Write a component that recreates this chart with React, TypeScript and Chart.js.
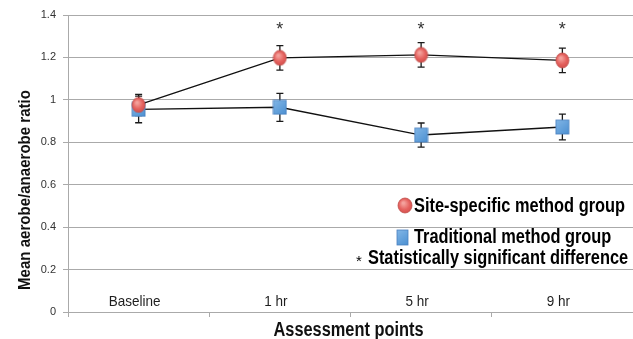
import React, { useEffect, useRef } from "react";
import { Chart, registerables } from "chart.js";

Chart.register(...registerables);

const categories = ["Baseline", "1 hr", "5 hr", "9 hr"];
const siteSpecific = [0.976, 1.198, 1.212, 1.186];
const siteSpecificErr = [0.05, 0.058, 0.058, 0.058];
const traditional = [0.955, 0.965, 0.834, 0.872];
const traditionalErr = [0.063, 0.066, 0.057, 0.061];
const significant = [false, true, true, true];
const yMin = 0;
const yMax = 1.4;
const yStep = 0.2;
const yTitle = "Mean aerobe/anaerobe ratio";
const xTitle = "Assessment points";
const legendLabels = [
  "Site-specific method group",
  "Traditional method group",
  "Statistically significant difference",
];

const SANS = "'Liberation Sans', Arial, sans-serif";

function makeCircle(w: number, h: number): HTMLCanvasElement {
  const c = document.createElement("canvas");
  c.width = w + 2;
  c.height = h + 2;
  const ctx = c.getContext("2d")!;
  const g = ctx.createRadialGradient(w * 0.45, h * 0.4, 1, w / 2 + 1, h / 2 + 1, w / 1.6);
  g.addColorStop(0, "#f4a19c");
  g.addColorStop(0.55, "#e5625f");
  g.addColorStop(1, "#d04a47");
  ctx.fillStyle = g;
  ctx.beginPath();
  ctx.ellipse(w / 2 + 1, h / 2 + 1, w / 2, h / 2, 0, 0, Math.PI * 2);
  ctx.fill();
  ctx.strokeStyle = "#c0504d";
  ctx.lineWidth = 0.8;
  ctx.stroke();
  return c;
}

function makeSquare(w: number, h: number): HTMLCanvasElement {
  const c = document.createElement("canvas");
  c.width = w + 2;
  c.height = h + 2;
  const ctx = c.getContext("2d")!;
  const g = ctx.createLinearGradient(0, 0, w, h);
  g.addColorStop(0, "#86b9e8");
  g.addColorStop(1, "#5093d3");
  ctx.fillStyle = g;
  ctx.fillRect(1, 1, w, h);
  ctx.strokeStyle = "#4a7fbf";
  ctx.lineWidth = 0.8;
  ctx.strokeRect(1, 1, w, h);
  return c;
}

// draws text horizontally condensed (narrow typeface look)
function narrowText(
  ctx: CanvasRenderingContext2D,
  text: string,
  x: number,
  y: number,
  font: string,
  scaleX: number,
  align: "left" | "center"
) {
  ctx.save();
  ctx.font = font;
  ctx.textAlign = align;
  ctx.textBaseline = "middle";
  ctx.translate(x, y);
  ctx.scale(scaleX, 1);
  ctx.fillText(text, 0, 0);
  ctx.restore();
}

function fitScale(ctx: CanvasRenderingContext2D, text: string, font: string, width: number) {
  ctx.save();
  ctx.font = font;
  const w = ctx.measureText(text).width;
  ctx.restore();
  return width / w;
}

export default function App() {
  const ref = useRef<HTMLCanvasElement | null>(null);

  useEffect(() => {
    document.body.style.margin = "0";
    const canvas = ref.current;
    if (!canvas) return;
    const circle = makeCircle(13, 15);
    const square = makeSquare(13, 14);
    const legendCircle = makeCircle(14, 15);
    const legendSquare = makeSquare(11, 15);

    const errorBars = {
      id: "errorBars",
      beforeDatasetsDraw(chart: any) {
        const ctx = chart.ctx;
        const xs = chart.scales.x;
        const ys = chart.scales.y;
        const sets = [
          { v: traditional, e: traditionalErr },
          { v: siteSpecific, e: siteSpecificErr },
        ];
        ctx.save();
        ctx.strokeStyle = "#1a1a1a";
        ctx.lineWidth = 1.3;
        sets.forEach((s) => {
          s.v.forEach((v, i) => {
            const x = xs.getPixelForValue(i);
            const y1 = ys.getPixelForValue(v + s.e[i]);
            const y2 = ys.getPixelForValue(v - s.e[i]);
            ctx.beginPath();
            ctx.moveTo(x, y1);
            ctx.lineTo(x, y2);
            ctx.moveTo(x - 3.5, y1);
            ctx.lineTo(x + 3.5, y1);
            ctx.moveTo(x - 3.5, y2);
            ctx.lineTo(x + 3.5, y2);
            ctx.stroke();
          });
        });
        ctx.restore();
      },
    };

    const annotations = {
      id: "annotations",
      afterDraw(chart: any) {
        const ctx = chart.ctx as CanvasRenderingContext2D;
        const xs = chart.scales.x;
        const area = chart.chartArea;
        ctx.save();
        // category labels inside the plot, above the axis
        ctx.fillStyle = "#1e1e1e";
        const catFont = `15px ${SANS}`;
        categories.forEach((c, i) => {
          narrowText(ctx, c, xs.getPixelForValue(i) - 4, area.bottom - 10.5, catFont, 0.9, "center");
        });
        // significance asterisks
        ctx.fillStyle = "#333";
        significant.forEach((s, i) => {
          if (s) narrowText(ctx, "*", xs.getPixelForValue(i), area.top + 15, `18px ${SANS}`, 1, "center");
        });
        // axis titles
        ctx.fillStyle = "#111";
        const xtFont = `bold 20px ${SANS}`;
        narrowText(ctx, xTitle, (area.left + area.right) / 2 - 2, 330, xtFont, fitScale(ctx, xTitle, xtFont, 150), "center");
        ctx.save();
        ctx.translate(25, 190);
        ctx.rotate(-Math.PI / 2);
        const ytFont = `bold 17px ${SANS}`;
        narrowText(ctx, yTitle, 0, 0, ytFont, fitScale(ctx, yTitle, ytFont, 200), "center");
        ctx.restore();
        // legend
        ctx.fillStyle = "#000";
        const lgFont = `bold 20px ${SANS}`;
        const lgScale = fitScale(ctx, legendLabels[0], lgFont, 211);
        ctx.drawImage(legendCircle, 397, 197);
        narrowText(ctx, legendLabels[0], 414, 206, lgFont, lgScale, "left");
        ctx.drawImage(legendSquare, 396, 229);
        narrowText(ctx, legendLabels[1], 414, 237, lgFont, lgScale, "left");
        narrowText(ctx, legendLabels[2], 368, 258, lgFont, lgScale, "left");
        narrowText(ctx, "*", 359, 262, `15px ${SANS}`, 1, "center");
        ctx.restore();
      },
    };

    const chart = new Chart(canvas, {
      type: "line",
      data: {
        labels: categories,
        datasets: [
          {
            label: legendLabels[0],
            data: siteSpecific,
            borderColor: "#111",
            borderWidth: 1.4,
            pointStyle: circle as any,
            pointRadius: 7,
            order: 0,
          },
          {
            label: legendLabels[1],
            data: traditional,
            borderColor: "#111",
            borderWidth: 1.4,
            pointStyle: square as any,
            pointRadius: 7,
            order: 1,
          },
        ],
      },
      options: {
        animation: false,
        responsive: false,
        layout: { autoPadding: false, padding: { top: 15, right: 0, left: 0, bottom: 0 } },
        plugins: { legend: { display: false }, tooltip: { enabled: false } },
        scales: {
          x: {
            offset: true,
            grid: {
              offset: true,
              drawOnChartArea: false,
              drawTicks: true,
              tickLength: 5,
              color: "#aaa",
            },
            border: { display: true, color: "#aaa", width: 1 },
            ticks: { display: false },
            afterFit: (s: any) => {
              s.height = 27;
            },
          },
          y: {
            min: yMin,
            max: yMax,
            ticks: {
              stepSize: yStep,
              color: "#333",
              font: { size: 11, family: SANS },
              padding: 7,
              callback: (v: any) => String(Number(Number(v).toFixed(1))),
            },
            grid: { color: "#aaa", tickLength: 5, lineWidth: 1 },
            border: { display: true, color: "#aaa" },
            afterFit: (s: any) => {
              s.width = 68;
            },
          },
        },
      },
      plugins: [errorBars, annotations],
    });
    return () => chart.destroy();
  }, []);

  return (
    <div style={{ width: 633, height: 339 }}>
      <canvas ref={ref} width={633} height={339} />
    </div>
  );
}
